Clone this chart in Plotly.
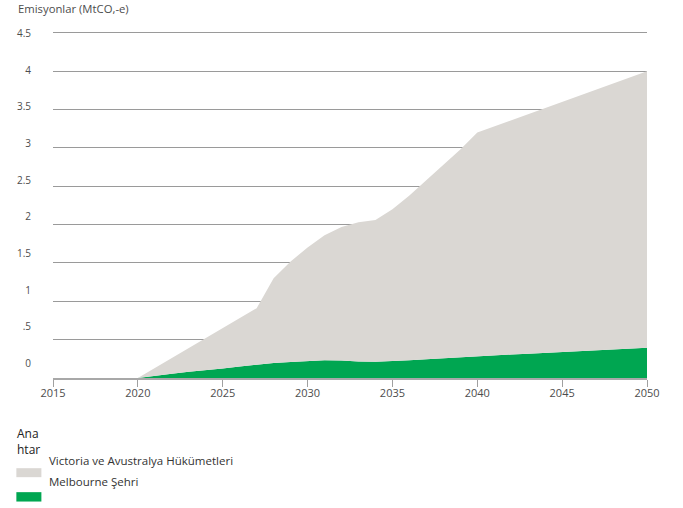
import plotly.graph_objects as go

# Emissions reductions by source, MtCO2-e, yearly 2020-2050
years = list(range(2020, 2051))
melbourne = [0.0, 0.03, 0.055, 0.08, 0.10, 0.125, 0.15, 0.175, 0.195, 0.21,
             0.222, 0.232, 0.228, 0.215, 0.212, 0.22, 0.233, 0.246, 0.26, 0.273,
             0.286, 0.296, 0.306, 0.316, 0.326, 0.335, 0.347, 0.359, 0.371, 0.383,
             0.395]
governments = [0.0, 0.10, 0.215, 0.32, 0.43, 0.525, 0.63, 0.735, 1.105, 1.31,
               1.478, 1.628, 1.742, 1.815, 1.848, 1.98, 2.147, 2.334, 2.52, 2.707,
               2.914, 2.984, 3.054, 3.124, 3.194, 3.265, 3.333, 3.401, 3.469, 3.537,
               3.605]

series_names = ["Melbourne Şehri", "Victoria ve Avustralya Hükümetleri"]
y_tick_vals = [0, 0.5, 1, 1.5, 2, 2.5, 3, 3.5, 4, 4.5]
y_tick_text = ["0", ".5", "1", "1.5", "2", "2.5", "3", "3.5", "4", "4.5"]
x_tick_vals = [2015, 2020, 2025, 2030, 2035, 2040, 2045, 2050]

GREEN = "#00A651"
GREY = "#DAD7D3"
FONT = "Open Sans"
TEXT = "#4d4d4d"

W, H = 683, 508
L, R, T, B = 53.3, 36.3, 28.56, 130.0
pw, ph = W - L - R, H - T - B
Y_TOP = 4.55


def px_x(px):
    return (px - L) / pw


def px_y(py):
    return (H - B - py) / ph


fig = go.Figure()
fig.add_trace(go.Scatter(x=years, y=melbourne, name=series_names[0],
                         stackgroup="s", mode="lines",
                         line=dict(width=0, color=GREEN), fillcolor=GREEN,
                         hoverinfo="skip", showlegend=False))
fig.add_trace(go.Scatter(x=years, y=governments, name=series_names[1],
                         stackgroup="s", mode="lines",
                         line=dict(width=0, color=GREY), fillcolor=GREY,
                         hoverinfo="skip", showlegend=False))
# carrier for the label axis
fig.add_trace(go.Scatter(x=[None], y=[None], yaxis="y2", mode="lines",
                         hoverinfo="skip", showlegend=False))

fig.update_layout(
    width=W, height=H,
    margin=dict(l=L, r=R, t=T, b=B, pad=0),
    paper_bgcolor="white", plot_bgcolor="white",
    font=dict(family=FONT, size=10.5, color=TEXT),
    showlegend=False,
    xaxis=dict(range=[2015, 2050], tickvals=x_tick_vals, showgrid=False,
               zeroline=False, showline=True, linecolor="#a8a8a8", linewidth=1.5,
               ticks="outside", ticklen=7, tickcolor="#a0a0a0", tickwidth=1,
               ticklabelstandoff=-3,
               tickfont=dict(size=11, color=TEXT), fixedrange=True),
    yaxis=dict(range=[0, Y_TOP], tickvals=y_tick_vals, showticklabels=False,
               showgrid=True, gridcolor="#9a9a9a", gridwidth=1.2,
               zeroline=False, showline=False, fixedrange=True),
    yaxis2=dict(overlaying="y", side="left", range=[-0.2, 4.564],
                tickvals=y_tick_vals, ticktext=y_tick_text, showgrid=False,
                zeroline=False, showline=False, ticks="outside", ticklen=19,
                tickcolor="rgba(0,0,0,0)", tickfont=dict(size=10, color=TEXT),
                fixedrange=True),
)

annotations = [
    dict(text="Emisyonlar (MtCO,-e)", x=px_x(16), y=px_y(8.5),
         font=dict(size=11.3, color=TEXT)),
    dict(text="Ana", x=px_x(15.5), y=px_y(433.5),
         font=dict(size=12, color="#222222")),
    dict(text="htar", x=px_x(15.5), y=px_y(449.5),
         font=dict(size=12, color="#222222")),
    dict(text=series_names[1], x=px_x(47), y=px_y(460.5),
         font=dict(size=11.5, color="#333333")),
    dict(text=series_names[0], x=px_x(47), y=px_y(482),
         font=dict(size=11.5, color="#333333")),
]
for a in annotations:
    a.update(xref="paper", yref="paper", xanchor="left", yanchor="middle",
             showarrow=False)
fig.update_layout(annotations=annotations)

swatches = [(GREY, 468.3, 477.3), (GREEN, 492.3, 501.7)]
fig.update_layout(shapes=[
    dict(type="rect", xref="paper", yref="paper",
         x0=px_x(16.7), x1=px_x(41.7), y0=px_y(y1), y1=px_y(y0),
         fillcolor=c, line=dict(width=0))
    for c, y0, y1 in swatches
])

fig.write_html("out.html", config={"displayModeBar": False})
